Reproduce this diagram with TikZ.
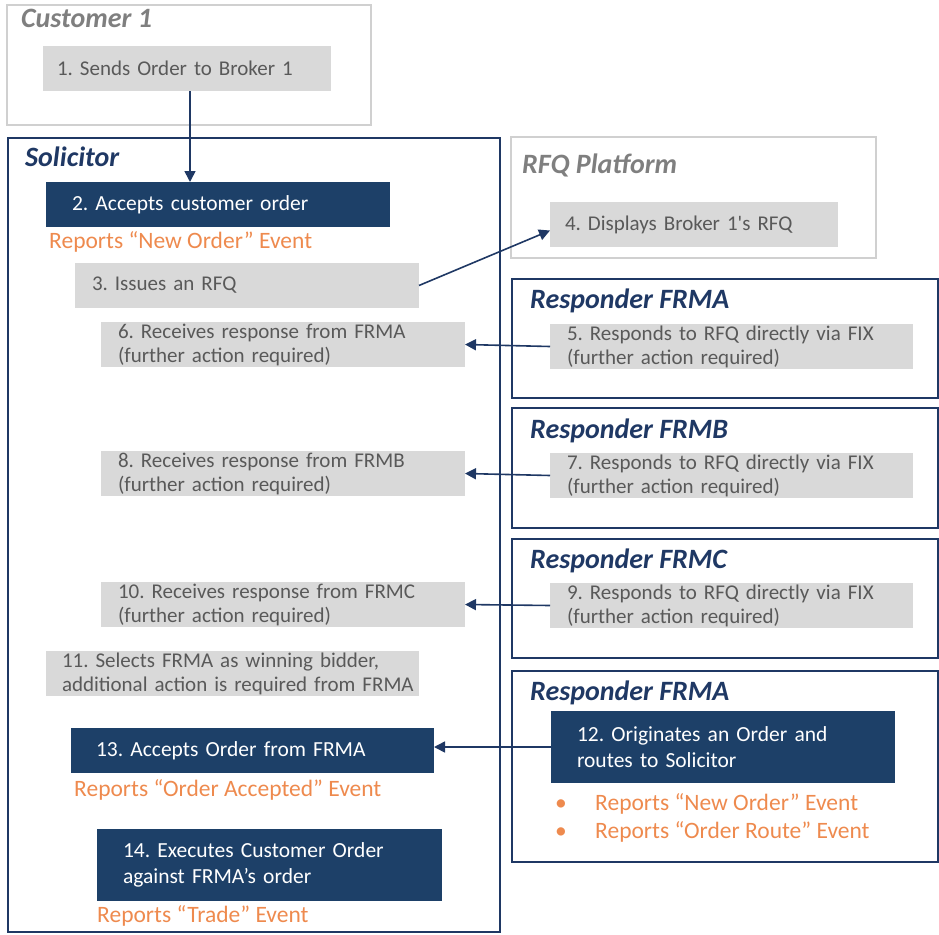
\documentclass[tikz,border=0pt]{standalone}
\usepackage{fontspec}
\setmainfont{Carlito}
\usetikzlibrary{arrows.meta}
\frenchspacing

\definecolor{frameNavy}{HTML}{1F3864}
\definecolor{stepDark}{HTML}{1D4068}
\definecolor{stepGray}{HTML}{D9D9D9}
\definecolor{stepText}{HTML}{595959}
\definecolor{frameLight}{HTML}{D0D0D0}
\definecolor{titleGray}{HTML}{7F7F7F}
\definecolor{eventOrange}{HTML}{EE8A4E}

\begin{document}
\begin{tikzpicture}[
			x=1pt, y=-1pt,
			% Frame styles
			navyFrame/.style={draw=frameNavy, line width=1.8pt, anchor=north west, inner sep=0pt, outer sep=0pt},
			lightFrame/.style={draw=frameLight, line width=2pt, anchor=north west, inner sep=0pt, outer sep=0pt},
			frameTitle/.style={anchor=base west, inner sep=0pt, font=\fontsize{28}{30}\selectfont\bfseries\itshape},
			% Step styles
			grayStep/.style={fill=stepGray, text=stepText, anchor=north west, align=left, inner ysep=0pt, outer sep=0pt, minimum height=45pt, font=\fontsize{21}{24}\selectfont},
			darkStep/.style={fill=stepDark, text=white, anchor=north west, align=left, inner ysep=0pt, outer sep=0pt, minimum height=45pt, font=\fontsize{21.5}{26}\selectfont},
			eventText/.style={text=eventOrange, anchor=base west, inner sep=0pt, align=left, font=\fontsize{23.5}{28}\selectfont},
			% Line styles
			flowArrow/.style={draw=frameNavy, line width=1.6pt, -{Triangle[length=11pt, width=11pt]}}
			]
			
			\useasboundingbox (0,0) rectangle (939,934);
			
			% =========================================================
			% 1. FRAMES
			% =========================================================
			
			\node[lightFrame, minimum width=364pt, minimum height=120pt] (customer) at (7,5) {};
			\node[navyFrame, minimum width=492pt, minimum height=794pt] (solicitor) at (8,138) {};
			\node[lightFrame, minimum width=365pt, minimum height=121pt] (platform) at (511,137) {};
			\node[navyFrame, minimum width=426pt, minimum height=119pt] (frmaTop) at (512,279) {};
			\node[navyFrame, minimum width=426pt, minimum height=120pt] (frmb) at (512,408) {};
			\node[navyFrame, minimum width=426pt, minimum height=119pt] (frmc) at (512,539) {};
			\node[navyFrame, minimum width=426pt, minimum height=191pt] (frmaBot) at (512,671) {};
			
			% Titles
			\node[frameTitle, text=titleGray] (customerTitle) at (21,28) {Customer 1};
			\node[frameTitle, text=frameNavy] (solicitorTitle) at (25,166) {Solicitor};
			\node[frameTitle, text=titleGray] (platformTitle) at (522,173) {RFQ Platform};
			\node[frameTitle, text=frameNavy] (frmaTopTitle) at (530,308) {Responder FRMA};
			\node[frameTitle, text=frameNavy] (frmbTitle) at (530,438) {Responder FRMB};
			\node[frameTitle, text=frameNavy] (frmcTitle) at (530,568) {Responder FRMC};
			\node[frameTitle, text=frameNavy] (frmaBotTitle) at (530,700) {Responder FRMA};
			
			% =========================================================
			% 2. STEPS
			% =========================================================
			
			% Customer and platform
			\node[grayStep, inner xsep=14pt, text width=260pt] (s1) at (43,46) {1. Sends Order to Broker 1};
			\node[grayStep, inner xsep=15pt, text width=258pt] (s4) at (550,202) {4. Displays Broker 1\textquotesingle s RFQ};
			
			% Solicitor
			\node[darkStep, inner xsep=26pt, text width=292pt] (s2) at (46,182) {2. Accepts customer order};
			\node[grayStep, inner xsep=17pt, text width=310pt] (s3) at (75,263) {3. Issues an RFQ};
			\node[grayStep, inner xsep=17pt, text width=330pt] (s6) at (101,322) {6. Receives response from FRMA\\(further action required)};
			\node[grayStep, inner xsep=17pt, text width=330pt] (s8) at (101,451) {8. Receives response from FRMB\\(further action required)};
			\node[grayStep, inner xsep=17pt, text width=330pt] (s10) at (101,582) {10. Receives response from FRMC\\(further action required)};
			\node[grayStep, inner xsep=16pt, text width=341pt] (s11) at (46,651) {11. Selects FRMA as winning bidder,\\\mbox{additional action is required from FRMA}};
			\node[darkStep, inner xsep=25pt, text width=313pt] (s13) at (71,728) {13. Accepts Order from FRMA};
			\node[darkStep, inner xsep=26pt, text width=293pt, minimum height=72pt] (s14) at (97,829) {14. Executes Customer Order\\against FRMA’s order};
			
			% Responders
			\node[grayStep, inner xsep=17pt, text width=329pt] (s5) at (550,324) {5. Responds to RFQ directly via FIX\\(further action required)};
			\node[grayStep, inner xsep=17pt, text width=329pt] (s7) at (550,453) {7. Responds to RFQ directly via FIX\\(further action required)};
			\node[grayStep, inner xsep=17pt, text width=329pt] (s9) at (550,583) {9. Responds to RFQ directly via FIX\\(further action required)};
			\node[darkStep, inner xsep=26pt, text width=292pt, minimum height=72pt] (s12) at (551,711) {12. Originates an Order and\\routes to Solicitor};
			
			% Reported events
			\node[eventText] (ev2) at (49,248) {Reports “New Order” Event};
			\node[eventText] (ev13) at (74,796) {Reports “Order Accepted” Event};
			\node[eventText] (ev14) at (97,922) {Reports “Trade” Event};
			\node[eventText] (ev12a) at (555,810) {\makebox[40pt][l]{\textbullet}Reports “New Order” Event};
			\node[eventText] (ev12b) at (555,838) {\makebox[40pt][l]{\textbullet}Reports “Order Route” Event};
			
			% =========================================================
			% 3. CONNECTORS
			% =========================================================
			
			\draw[flowArrow] ([xshift=3pt]s1.south) -- ([xshift=3pt]s1.south |- s2.north);
			\draw[flowArrow] (s3.east) -- ([yshift=-6pt]s4.west);
			\draw[flowArrow] (s5.west) -- (s6.east);
			\draw[flowArrow] (s7.west) -- (s8.east);
			\draw[flowArrow] (s9.west) -- (s10.east);
			\draw[flowArrow] (s12.west) -- (s12.west -| s13.east);
			
		\end{tikzpicture}
\end{document}
